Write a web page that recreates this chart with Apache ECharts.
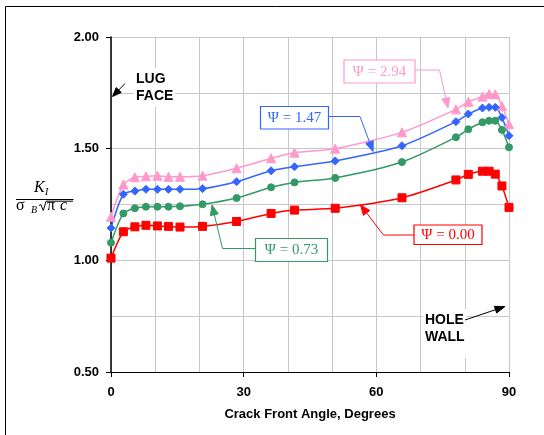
<!DOCTYPE html>
<html>
<head>
<meta charset="utf-8">
<script src="https://cdn.jsdelivr.net/npm/echarts@6/dist/echarts.min.js"></script>
<style>
html,body{margin:0;padding:0;background:#fff;}
#chart{width:544px;height:435px;}
</style>
</head>
<body>
<div id="chart"></div>
<script>
// Crack front angle (degrees)
const angles = [0, 2.8, 5.4, 7.9, 10.5, 13.0, 15.6, 20.7, 28.4, 36.2, 41.5, 50.7, 65.8, 78.0, 80.8, 84.0, 85.5, 86.9, 88.4, 90];
// Normalized stress intensity K_I / (sigma_B sqrt(pi c))
const psi000 = [1.01, 1.128, 1.15, 1.157, 1.154, 1.152, 1.149, 1.152, 1.174, 1.21, 1.225, 1.233, 1.28, 1.36, 1.385, 1.399, 1.399, 1.386, 1.333, 1.237];
const psi073 = [1.079, 1.21, 1.233, 1.24, 1.24, 1.24, 1.242, 1.251, 1.279, 1.327, 1.349, 1.369, 1.44, 1.551, 1.587, 1.618, 1.625, 1.625, 1.584, 1.506];
const psi147 = [1.145, 1.296, 1.31, 1.318, 1.318, 1.318, 1.318, 1.321, 1.352, 1.401, 1.419, 1.445, 1.513, 1.621, 1.655, 1.682, 1.685, 1.685, 1.639, 1.558];
const psi294 = [1.195, 1.339, 1.372, 1.376, 1.379, 1.374, 1.374, 1.379, 1.412, 1.457, 1.482, 1.5, 1.573, 1.676, 1.71, 1.733, 1.745, 1.743, 1.691, 1.61];
const seriesLabels = ['\u03A8 = 0.00', '\u03A8 = 0.73', '\u03A8 = 1.47', '\u03A8 = 2.94'];
const xTicks = [0, 30, 60, 90];
const yTicks = [0.5, 1.0, 1.5, 2.0];

const RED = '#ff0000', GREEN = '#339966', BLUE = '#3366ff', PINK = '#ff99cc';
const SANS = '"Liberation Sans", Arial, sans-serif';
const SERIF = '"Liberation Serif", "Times New Roman", serif';

function pairs(ys){ return angles.map((a,i)=>[a, ys[i]]); }

function arrow(pts, color, w, headL, headW){
  const n = pts.length;
  const tip = pts[n-1], prev = pts[n-2];
  let dx = tip[0]-prev[0], dy = tip[1]-prev[1];
  const len = Math.sqrt(dx*dx+dy*dy); dx/=len; dy/=len;
  const base = [tip[0]-dx*headL, tip[1]-dy*headL];
  const px = -dy, py = dx;
  const linePts = pts.slice(0, n-1).concat([base]);
  return [
    {type:'polyline', shape:{points:linePts}, style:{stroke:color, lineWidth:w, fill:null}, z:50},
    {type:'polygon', shape:{points:[tip,[base[0]+px*headW/2, base[1]+py*headW/2],[base[0]-px*headW/2, base[1]-py*headW/2]]}, style:{fill:color, stroke:color}, z:50}
  ];
}

function labelBox(x, y, w, h, text, color){
  return [
    {type:'rect', shape:{x:x, y:y, width:w, height:h}, style:{fill:'#fff', stroke:color, lineWidth:1.2}, z:40},
    {type:'text', x:x+w/2, y:y+h/2+0.5, style:{text:text, fill:color, font:'15px '+SERIF, textAlign:'center', textVerticalAlign:'middle'}, z:41}
  ];
}

const chart = echarts.init(document.getElementById('chart'), null, {renderer:'canvas'});

const graphics = [].concat(
  // outer frame (only top/left visible)
  [{type:'rect', shape:{x:5.5, y:6.5, width:600, height:500}, style:{fill:null, stroke:'#000', lineWidth:1}, z:1}],
  labelBox(344, 60, 71, 23, seriesLabels[3], PINK),
  arrow([[415,70],[439.5,70],[448,108]], PINK, 1, 10, 8),
  labelBox(260.5, 106.5, 68, 22.5, seriesLabels[2], BLUE),
  arrow([[328.5,116.5],[360,116.5],[373,151.5]], BLUE, 1, 10, 8),
  labelBox(255.5, 238.5, 72, 23, seriesLabels[1], GREEN),
  arrow([[255.5,248.5],[222.5,248.5],[212,205]], GREEN, 1, 10, 8),
  labelBox(414, 225, 68, 19.5, seriesLabels[0], RED),
  arrow([[414,235],[383.5,235],[360.5,205]], RED, 1, 10, 8),
  // LUG FACE
  [{type:'text', x:134, y:68, style:{text:'LUG\nFACE', fill:'#000', font:'bold 14px '+SANS, lineHeight:17.5, backgroundColor:'#fff', padding:[2,2,2,2]}, z:30}],
  arrow([[125,83.5],[112.5,96.5]], '#000', 1, 9, 7),
  // HOLE WALL
  [{type:'text', x:423, y:309, style:{text:'HOLE\nWALL', fill:'#000', font:'bold 14px '+SANS, lineHeight:17.5, backgroundColor:'#fff', padding:[2,2,12,2]}, z:30}],
  arrow([[465,320],[505,306.5]], '#000', 1, 10, 7),
  // y-axis title as fraction
  [
    {type:'text', x:34, y:188, style:{text:'K', fill:'#000', font:'italic 16px '+SERIF, textVerticalAlign:'middle'}, z:30},
    {type:'text', x:45, y:192, style:{text:'I', fill:'#000', font:'italic 10px '+SERIF, textVerticalAlign:'middle'}, z:30},
    {type:'line', shape:{x1:16, y1:199.5, x2:73.5, y2:199.5}, style:{stroke:'#000', lineWidth:1}, z:30},
    {type:'text', x:16, y:206, style:{text:'\u03C3', fill:'#000', font:'16px '+SERIF, textVerticalAlign:'middle'}, z:30},
    {type:'text', x:31, y:210, style:{text:'B', fill:'#000', font:'italic 10px '+SERIF, textVerticalAlign:'middle'}, z:30},
    {type:'polyline', shape:{points:[[39,205.5],[40.8,204.5],[43.3,210.5],[46,201.2],[73,201.2]]}, style:{stroke:'#000', lineWidth:1, fill:null}, z:30},
    {type:'text', x:47, y:206, style:{text:'\u03C0', fill:'#000', font:'16px '+SERIF, textVerticalAlign:'middle'}, z:30},
    {type:'text', x:60, y:206, style:{text:'c', fill:'#000', font:'italic 16px '+SERIF, textVerticalAlign:'middle'}, z:30}
  ]
);

function mkSeries(name, ys, color, symbol, size){
  return {
    name:name, type:'line', data:pairs(ys), smooth:0.25,
    symbol:symbol, symbolSize:size, showSymbol:true,
    lineStyle:{color:color, width:1.5},
    itemStyle:{color:color, borderColor:color},
    emphasis:{disabled:true}, animation:false, z:10
  };
}

chart.setOption({
  backgroundColor:'#fff',
  animation:false,
  grid:{left:111, right:35, top:37, bottom:63},
  xAxis:{
    type:'value', min:xTicks[0], max:xTicks[xTicks.length-1], interval:30,
    name:'Crack Front Angle, Degrees', nameLocation:'middle', nameGap:36,
    nameTextStyle:{color:'#000', fontFamily:SANS, fontWeight:'bold', fontSize:13},
    axisLine:{show:true, onZero:false, lineStyle:{color:'#000', width:1}},
    axisTick:{show:true, length:5, lineStyle:{color:'#000'}},
    axisLabel:{color:'#000', fontFamily:SANS, fontWeight:'bold', fontSize:13, margin:14,
      formatter:v=> xTicks.includes(v) ? String(v) : ''},
    splitLine:{show:true, lineStyle:{color:'#c8c8c8', width:1}},
    minorTick:{show:false, splitNumber:3},
    minorSplitLine:{show:true, lineStyle:{color:'#c8c8c8', width:1}}
  },
  yAxis:{
    type:'value', min:yTicks[0], max:yTicks[yTicks.length-1], interval:0.5,
    axisLine:{show:true, onZero:false, lineStyle:{color:'#000', width:1.5}},
    axisTick:{show:true, length:5, lineStyle:{color:'#000'}},
    axisLabel:{color:'#000', fontFamily:SANS, fontWeight:'bold', fontSize:13, margin:12,
      formatter:v=> v.toFixed(2)},
    splitLine:{show:true, lineStyle:{color:'#c8c8c8', width:1}},
    minorTick:{show:false, splitNumber:2},
    minorSplitLine:{show:true, lineStyle:{color:'#c8c8c8', width:1}}
  },
  series:[
    mkSeries(seriesLabels[3], psi294, PINK, 'triangle', 9),
    mkSeries(seriesLabels[2], psi147, BLUE, 'diamond', 8),
    mkSeries(seriesLabels[1], psi073, GREEN, 'circle', 7),
    mkSeries(seriesLabels[0], psi000, RED, 'rect', 8)
  ],
  graphic:graphics
});
</script>
</body>
</html>
